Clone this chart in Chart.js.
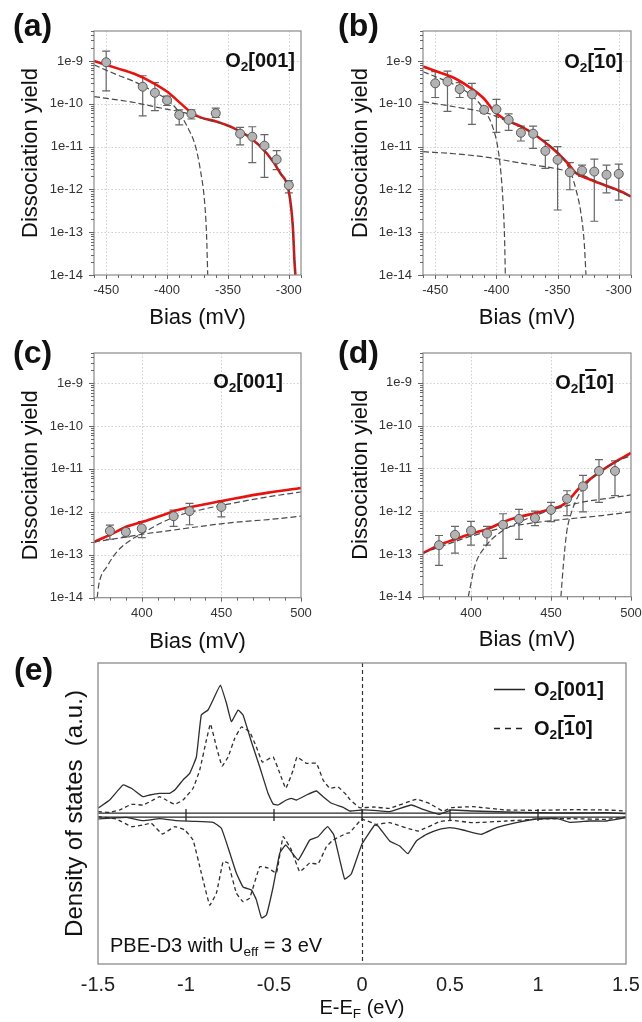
<!DOCTYPE html>
<html><head><meta charset="utf-8">
<script src="https://cdn.jsdelivr.net/npm/chart.js@4.4.0/dist/chart.umd.min.js"></script>
<style>
html,body{margin:0;padding:0;background:#fff;}
#root{position:relative;width:642px;height:1022px;overflow:hidden;font-family:"Liberation Sans",Arial,sans-serif;color:#111;}
canvas{position:absolute;}
.lbl{position:absolute;font-weight:bold;font-size:32px;line-height:1;white-space:nowrap;}
.ann{position:absolute;font-weight:bold;font-size:20px;line-height:1;white-space:nowrap;}
.txt{position:absolute;font-size:20px;line-height:1;white-space:nowrap;}
.sub{font-size:68%;position:relative;top:0.32em;}
.ov{text-decoration:overline;text-decoration-thickness:2px;}
</style></head><body><div id="root">
<canvas id="ca" width="321" height="335" style="left:0;top:0"></canvas>
<canvas id="cb" width="321" height="335" style="left:321px;top:0"></canvas>
<canvas id="cc" width="321" height="360" style="left:0;top:300px"></canvas>
<canvas id="cd" width="321" height="360" style="left:321px;top:300px"></canvas>
<canvas id="ce" width="642" height="372" style="left:0;top:650px"></canvas>

<div class="lbl" style="left:13px;top:9px">(a)</div>
<div class="lbl" style="left:338px;top:9px">(b)</div>
<div class="lbl" style="left:13px;top:336px">(c)</div>
<div class="lbl" style="left:338px;top:336px">(d)</div>
<div class="lbl" style="left:14px;top:653px">(e)</div>

<div class="ann" style="right:347px;top:50px">O<span class="sub">2</span>[001]</div>
<div class="ann" style="right:19px;top:51px">O<span class="sub">2</span>[<span class="ov">1</span>0]</div>
<div class="ann" style="right:359px;top:371px">O<span class="sub">2</span>[001]</div>
<div class="ann" style="right:28px;top:372px">O<span class="sub">2</span>[<span class="ov">1</span>0]</div>

<div class="ann" style="left:534px;top:679px">O<span class="sub">2</span>[001]</div>
<div class="ann" style="left:534px;top:718px">O<span class="sub">2</span>[<span class="ov">1</span>0]</div>
<div class="txt" style="left:110px;top:935px">PBE-D3 with U<span class="sub">eff</span> = 3 eV</div>
<div class="txt" style="left:262px;width:200px;text-align:center;top:997px">E-E<span class="sub">F</span> (eV)</div>
</div>
<script>
// ---------- tick values ----------
const yTickVals = [1e-14, 1e-13, 1e-12, 1e-11, 1e-10, 1e-9];
const yTickLabels = ['1e-14', '1e-13', '1e-12', '1e-11', '1e-10', '1e-9'];
const negTicks = [-450, -400, -350, -300];
const posTicks = [400, 450, 500];
const eTicks = [-1.5, -1, -0.5, 0, 0.5, 1, 1.5];
const eTickLabels = ['-1.5', '-1', '-0.5', '0', '0.5', '1', '1.5'];
const eBaseTicks = [-1, -0.5, 0, 0.5, 1];

// ---------- panel (a) O2[001], negative bias ----------
const aBias  = [-450, -420, -410, -400, -390, -380, -360, -340, -330, -320, -310, -300];
const aYield = [9.3e-10, 2.5e-10, 1.8e-10, 1.2e-10, 5.5e-11, 5.8e-11, 6.0e-11, 2.0e-11, 1.7e-11, 1.05e-11, 5.0e-12, 1.25e-12];
const aErrHi = [1.7e-9, 4.5e-10, 3.1e-10, 1.5e-10, 7.2e-11, 7.2e-11, 7.9e-11, 2.8e-11, 2.9e-11, 1.9e-11, 8.0e-12, 1.6e-12];
const aErrLo = [2.0e-10, 5.2e-11, 6.9e-11, 9.1e-11, 3.2e-11, 4.4e-11, 4.8e-11, 1.1e-11, 4.2e-12, 1.9e-12, 2.9e-12, 8.3e-13];
const aFitX = [-460, -440.7, -427, -413.5, -399.8, -388.9, -379.4, -372.6, -358.9, -345.3, -331.6, -318, -307, -300, -296.7, -295.4, -294.6];
const aFitY = [1.0e-9, 6.7e-10, 5.0e-10, 3.3e-10, 1.9e-10, 1.02e-10, 6.0e-11, 4.8e-11, 3.8e-11, 2.7e-11, 1.6e-11, 6.9e-12, 2.4e-12, 8.9e-13, 1.35e-13, 2.2e-14, 1e-14];
const aC1X = [-460, -440.7, -427, -413.5, -399.8, -391.6, -383.5, -376.6, -372.6, -369.3, -367.6, -366.6];
const aC1Y = [8.1e-10, 4.7e-10, 3.3e-10, 2.1e-10, 1.23e-10, 7.2e-11, 2.95e-11, 1.0e-11, 2.8e-12, 5.6e-13, 9.3e-14, 1e-14];
const aC2X = [-460, -440.7, -427, -413.5, -399.8, -386, -372.6, -358.9, -345.3, -331.6, -318, -307, -300, -296.7, -295.4, -294.6];
const aC2Y = [1.47e-10, 1.23e-10, 1.07e-10, 8.9e-11, 7.4e-11, 6.2e-11, 4.7e-11, 3.7e-11, 2.7e-11, 1.6e-11, 6.9e-12, 2.4e-12, 8.9e-13, 1.35e-13, 2.2e-14, 1e-14];

// ---------- panel (b) O2[1-10], negative bias ----------
const bBias  = [-450, -440, -430, -420, -410, -400, -390, -380, -370, -360, -350, -340, -330, -320, -310, -300];
const bYield = [3.0e-10, 3.3e-10, 2.2e-10, 1.66e-10, 7.2e-11, 7.4e-11, 4.2e-11, 2.1e-11, 2.0e-11, 7.9e-12, 4.9e-12, 2.5e-12, 2.75e-12, 2.6e-12, 2.2e-12, 2.3e-12];
const bErrHi = [5.6e-10, 5.8e-10, 3.1e-10, 3.0e-10, 8.3e-11, 1.27e-10, 5.8e-11, 3.0e-11, 3.0e-11, 1.4e-11, 1.0e-11, 4.2e-12, 3.7e-12, 5.1e-12, 3.7e-12, 3.9e-12];
const bErrLo = [1.4e-10, 6.6e-11, 1.4e-10, 3.3e-11, 6.0e-11, 2.15e-11, 2.4e-11, 1.35e-11, 9.1e-12, 3.1e-12, 3.3e-13, 9.8e-13, 2.0e-12, 1.8e-13, 8.3e-13, 5.6e-13];
const bFitX = [-460, -448.1, -434.5, -420.8, -409.9, -401.7, -393.6, -379.9, -366.3, -352.7, -341.8, -335, -325.5, -311.8, -298.1, -290];
const bFitY = [7.4e-10, 5.6e-10, 4.0e-10, 2.3e-10, 1.29e-10, 6.6e-11, 4.4e-11, 2.95e-11, 1.7e-11, 8.3e-12, 4.1e-12, 2.4e-12, 1.8e-12, 1.26e-12, 8.9e-13, 6.8e-13];
const bC1X = [-460, -448.1, -434.5, -420.8, -409.9, -403.1, -399, -396.3, -394.4, -393.3, -392.7];
const bC1Y = [5.6e-10, 4.1e-10, 2.8e-10, 1.6e-10, 7.2e-11, 2.9e-11, 1.0e-11, 2.4e-12, 4.0e-13, 6.6e-14, 1e-14];
const bC2X = [-460, -434.5, -407.2, -393.6, -379.9, -366.3, -352.7, -344.5, -339.1, -335, -330.9, -328.2, -326.8];
const bC2Y = [1.12e-10, 8.5e-11, 6.0e-11, 4.2e-11, 2.95e-11, 1.7e-11, 8.7e-12, 4.9e-12, 2.4e-12, 1.0e-12, 2.75e-13, 5.5e-14, 1e-14];
const bC3X = [-460, -434.5, -407.2, -379.9, -352.7, -330.9, -311.8, -290];
const bC3Y = [7.6e-12, 6.8e-12, 5.6e-12, 4.1e-12, 3.1e-12, 2.2e-12, 1.26e-12, 6.8e-13];

// ---------- panel (c) O2[001], positive bias ----------
const cBias  = [380, 390, 400, 420, 430, 450];
const cYield = [3.6e-13, 3.4e-13, 4.1e-13, 7.9e-13, 1.04e-12, 1.3e-12];
const cErrHi = [4.9e-13, 4.1e-13, 5.9e-13, 1.1e-12, 1.58e-12, 1.78e-12];
const cErrLo = [2.3e-13, 2.6e-13, 2.5e-13, 4.6e-13, 5.0e-13, 7.6e-13];
const cFitX = [370, 380.4, 391, 401.5, 412, 422.6, 437.3, 458.4, 479.5, 500];
const cFitY = [2.0e-13, 2.95e-13, 4.6e-13, 6.0e-13, 8.1e-13, 1.1e-12, 1.44e-12, 2.05e-12, 2.8e-12, 3.6e-12];
const cC1X = [372, 373, 378.3, 384.6, 393, 400, 412, 422.6, 437.3, 458.4, 479.5, 500];
const cC1Y = [1e-14, 2e-14, 5.4e-14, 1.2e-13, 2.2e-13, 3.1e-13, 5.5e-13, 8.1e-13, 1.12e-12, 1.62e-12, 2.24e-12, 2.9e-12];
const cC2X = [370, 384.6, 400, 416.2, 437.3, 458.4, 479.5, 500];
const cC2Y = [2.0e-13, 2.4e-13, 3.0e-13, 3.6e-13, 4.6e-13, 5.7e-13, 6.6e-13, 7.9e-13];

// ---------- panel (d) O2[1-10], positive bias ----------
const dBias  = [380, 390, 400, 410, 420, 430, 440, 450, 460, 470, 480, 490];
const dYield = [1.6e-13, 2.8e-13, 3.5e-13, 3.0e-13, 4.8e-13, 6.6e-13, 6.9e-13, 1.07e-12, 1.95e-12, 3.8e-12, 8.7e-12, 8.7e-12];
const dErrHi = [2.7e-13, 4.4e-13, 5.8e-13, 4.4e-13, 8.7e-13, 1.1e-12, 1.0e-12, 1.6e-12, 3.0e-12, 6.9e-12, 1.6e-11, 1.5e-11];
const dErrLo = [5.4e-14, 1.04e-13, 1.6e-13, 1.6e-13, 7.9e-14, 2.2e-13, 4.6e-13, 5.7e-13, 7.9e-13, 9.6e-13, 1.6e-12, 2.3e-12];
const dFitX = [370, 380, 390, 400, 410.8, 420.2, 429.6, 440, 450, 456.7, 460.8, 467.1, 473.3, 481.7, 490, 500];
const dFitY = [1.05e-13, 1.6e-13, 2.2e-13, 2.95e-13, 3.9e-13, 5.6e-13, 7.3e-13, 8.9e-13, 1.12e-12, 1.35e-12, 1.78e-12, 3.3e-12, 5.2e-12, 8.9e-12, 1.4e-11, 2.3e-11];
const dC1X = [456.2, 457.7, 459.8, 462.9, 467.1, 473.3, 481.7, 490, 500];
const dC1Y = [1e-14, 5.4e-14, 3.2e-13, 9.6e-13, 2.3e-12, 4.8e-12, 8.9e-12, 1.4e-11, 2.0e-11];
const dC2X = [398.3, 402.5, 408.8, 417, 427.5, 440, 452.5, 469.2, 485.8, 500];
const dC2Y = [1e-14, 5.4e-14, 1.45e-13, 2.95e-13, 5.0e-13, 7.9e-13, 1.12e-12, 1.62e-12, 2.0e-12, 2.4e-12];
const dC3X = [370, 390, 400, 419.2, 440, 460.8, 481.7, 500];
const dC3Y = [1.05e-13, 1.95e-13, 2.6e-13, 4.0e-13, 5.4e-13, 6.6e-13, 7.9e-13, 9.6e-13];

// ---------- panel (e) DOS ----------
const upSolidE = [-1.5,-1.434,-1.358,-1.31,-1.244,-1.206,-1.15,-1.093,-1.064,-1.017,-0.979,-0.941,-0.913,-0.875,-0.842,-0.805,-0.77,-0.742,-0.704,-0.676,-0.628,-0.581,-0.534,-0.505,-0.477,-0.43,-0.401,-0.372,-0.316,-0.259,-0.221,-0.173,-0.107,-0.07,0,0.063,0.157,0.28,0.347,0.44,0.508,0.63,0.82,1.01,1.2,1.39,1.5];
const upSolidV = [6.7,15,30,26.7,18.3,20,21.7,21.7,25,35,41.7,58,100,105,116.7,130,111.7,93.3,105,100,73,48,21.7,11,10,15,16.7,15,20,24,18.3,11.7,7.7,4,5,4.7,3.3,10,5.7,0.7,5,4,3,2.3,2,2.3,1.3];
const upDashE = [-1.5,-1.434,-1.377,-1.31,-1.244,-1.187,-1.15,-1.112,-1.064,-1.017,-0.96,-0.922,-0.884,-0.861,-0.827,-0.795,-0.761,-0.723,-0.685,-0.638,-0.6,-0.566,-0.505,-0.467,-0.433,-0.391,-0.369,-0.316,-0.259,-0.221,-0.183,-0.136,-0.088,-0.07,-0.013,0.063,0.157,0.309,0.385,0.46,0.508,0.63,0.82,1.01,1.2,1.39,1.5];
const upDashV = [3.3,2.7,5,10.7,10,15,18.3,15,10.7,15,26.7,45,75,91,68,49,58,76.7,88,83,68,53,58,41.7,26.7,45,58,51.7,51.7,35,26.7,28,20,15.7,7.3,8,6.7,15.7,11.3,4,7.3,8.3,5,4.7,5.3,5,4];
const dnSolidE = [-1.5,-1.339,-1.244,-1.15,-1.055,-0.96,-0.846,-0.799,-0.751,-0.714,-0.676,-0.628,-0.6,-0.571,-0.543,-0.505,-0.467,-0.433,-0.363,-0.297,-0.25,-0.196,-0.16,-0.099,-0.061,0,0.072,0.091,0.157,0.214,0.261,0.309,0.366,0.44,0.498,0.574,0.678,0.764,0.877,0.991,1.105,1.18,1.294,1.39,1.5];
const dnSolidV = [-4,-2.3,-5.7,-3.7,-5.7,-6.3,-7.3,-13.3,-38,-58,-72,-75,-85,-103,-100,-72,-38,-30,-45,-25,-21.7,-11.7,-20,-64,-59,-29,-10,-11,-26,-31,-38.7,-26,-19.3,-14.3,-12.7,-15,-19.3,-12.7,-7.7,-4,-3.3,-7.3,-6,-6,-2.7];
const dnDashE = [-1.5,-1.396,-1.31,-1.244,-1.197,-1.134,-1.064,-1.007,-0.96,-0.913,-0.865,-0.827,-0.789,-0.761,-0.714,-0.676,-0.638,-0.581,-0.534,-0.486,-0.448,-0.401,-0.354,-0.297,-0.25,-0.202,-0.164,-0.088,-0.07,0,0.081,0.157,0.318,0.44,0.508,0.63,0.82,1.01,1.2,1.39,1.5];
const dnDashV = [-1.7,-4,-11.7,-10,-8.3,-19,-11.7,-15,-25,-58,-90,-78,-46.7,-48,-78,-86.7,-83,-51.7,-53,-58,-21.7,-35,-56.7,-48,-49,-31.7,-25,-18.3,-17.7,-4.3,-9.3,-7.7,-16,-6.7,-5.3,-7.7,-6,-4,-3.7,-4.3,-2];

// ---------- helpers ----------
Chart.defaults.font.family = '"Liberation Sans", Arial, sans-serif';
Chart.defaults.color = '#333';
const pts = (xs, ys) => xs.map((x, i) => ({x: x, y: ys[i]}));
const RED = '#e8120f', DASH = '#4a4a4a';
const noPad = s => { s.paddingLeft = 0; s.paddingRight = 0; s.paddingTop = 0; s.paddingBottom = 0; };

function yieldPanel(id, c) {
  const deco = {
    id: 'deco',
    beforeDatasetsDraw(chart) {
      const {ctx, chartArea: ca, scales: {x, y}} = chart;
      ctx.save();
      ctx.strokeStyle = '#cfcfcf'; ctx.lineWidth = 1; ctx.setLineDash([1.5, 2]);
      c.xTicks.forEach(v => {
        const p = Math.round(x.getPixelForValue(v)) + 0.5;
        if (p > ca.left + 2 && p < ca.right - 2) { ctx.beginPath(); ctx.moveTo(p, ca.top); ctx.lineTo(p, ca.bottom); ctx.stroke(); }
      });
      yTickVals.forEach(v => {
        const p = Math.round(y.getPixelForValue(v)) + 0.5;
        if (p > ca.top + 2 && p < ca.bottom - 2) { ctx.beginPath(); ctx.moveTo(ca.left, p); ctx.lineTo(ca.right, p); ctx.stroke(); }
      });
      ctx.setLineDash([]);
      ctx.strokeStyle = '#666'; ctx.lineWidth = 1.2;
      c.bias.forEach((b, i) => {
        const px = x.getPixelForValue(b), t = y.getPixelForValue(c.hi[i]), bt = y.getPixelForValue(c.lo[i]);
        ctx.beginPath();
        ctx.moveTo(px, t); ctx.lineTo(px, bt);
        ctx.moveTo(px - 4, t); ctx.lineTo(px + 4, t);
        ctx.moveTo(px - 4, bt); ctx.lineTo(px + 4, bt);
        ctx.stroke();
      });
      ctx.restore();
    },
    afterDatasetsDraw(chart) {
      const {ctx, chartArea: ca, scales: {x, y}} = chart;
      ctx.save();
      ctx.strokeStyle = '#8a8a8a'; ctx.lineWidth = 1.2;
      ctx.strokeRect(ca.left, ca.top, ca.right - ca.left, ca.bottom - ca.top);
      ctx.strokeStyle = '#666'; ctx.lineWidth = 1;
      ctx.beginPath();
      yTickVals.forEach(v => {
        const p = Math.round(y.getPixelForValue(v)) + 0.5;
        ctx.moveTo(ca.left, p); ctx.lineTo(ca.left - 5, p);
        for (let k = 2; k <= 9; k++) {
          const mv = v * k;
          if (mv <= c.yMax) { const q = Math.round(y.getPixelForValue(mv)) + 0.5; ctx.moveTo(ca.left, q); ctx.lineTo(ca.left - 3, q); }
        }
      });
      for (let v = c.xMin; v <= c.xMax + 0.01; v += 10) {
        const p = Math.round(x.getPixelForValue(v)) + 0.5;
        const len = c.xTicks.includes(v) ? 4 : 3;
        ctx.moveTo(p, ca.bottom); ctx.lineTo(p, ca.bottom + len);
      }
      ctx.stroke();
      ctx.restore();
    }
  };
  const line = (xs, ys, col, w, dash) => ({
    data: pts(xs, ys), borderColor: col, borderWidth: w, borderDash: dash || [],
    pointRadius: 0, fill: false, cubicInterpolationMode: 'monotone'
  });
  const datasets = [{
    data: pts(c.bias, c.yield), showLine: false, pointRadius: 4.5, pointHoverRadius: 4.5,
    pointBackgroundColor: '#b3b3b3', pointBorderColor: '#5a5a5a', pointBorderWidth: 1
  }];
  c.comps.forEach(cp => datasets.push(line(cp[0], cp[1], DASH, 1.2, [6, 3])));
  datasets.push(line(c.fitX, c.fitY, RED, 2.6));
  new Chart(document.getElementById(id), {
    type: 'line',
    data: {datasets: datasets},
    options: {
      responsive: false, animation: false, devicePixelRatio: 1,
      layout: {padding: c.pad},
      plugins: {legend: {display: false}, tooltip: {enabled: false}},
      scales: {
        x: {
          type: 'linear', min: c.xMin, max: c.xMax,
          afterBuildTicks: s => { s.ticks = c.xTicks.map(v => ({value: v})); },
          afterFit: s => { s.height = c.xH; noPad(s); },
          grid: {display: false, drawTicks: false, tickLength: 0},
          border: {display: false},
          ticks: {font: {size: 13}, color: '#333', padding: c.xPad, maxRotation: 0, callback: v => String(v)},
          title: {display: true, text: 'Bias (mV)', font: {size: 22}, color: '#111', padding: {top: 0, bottom: c.xTitlePad}}
        },
        y: {
          type: 'logarithmic', min: 1e-14, max: c.yMax,
          afterBuildTicks: s => { s.ticks = yTickVals.map(v => ({value: v})); },
          afterFit: s => { s.width = c.yW; noPad(s); },
          grid: {display: false, drawTicks: false, tickLength: 0},
          border: {display: false},
          ticks: {font: {size: 13}, color: '#333', padding: 11, callback: (v, i) => yTickLabels[i]},
          title: {display: true, text: 'Dissociation yield', font: {size: 22}, color: '#111', padding: {top: c.yTitlePad, bottom: 0}}
        }
      }
    },
    plugins: [deco]
  });
}

yieldPanel('ca', {bias: aBias, yield: aYield, hi: aErrHi, lo: aErrLo, fitX: aFitX, fitY: aFitY,
  comps: [[aC1X, aC1Y], [aC2X, aC2Y]], xMin: -460, xMax: -290, xTicks: negTicks, yMax: 5e-9,
  pad: {left: 0, top: 31, right: 20, bottom: 0}, xH: 60, yW: 94, xPad: 8, xTitlePad: 3.8, yTitlePad: 17.6});
yieldPanel('cb', {bias: bBias, yield: bYield, hi: bErrHi, lo: bErrLo, fitX: bFitX, fitY: bFitY,
  comps: [[bC1X, bC1Y], [bC2X, bC2Y], [bC3X, bC3Y]], xMin: -460, xMax: -290, xTicks: negTicks, yMax: 5e-9,
  pad: {left: 0, top: 31, right: 11, bottom: 0}, xH: 60, yW: 102, xPad: 8, xTitlePad: 3.8, yTitlePad: 26.5});
yieldPanel('cc', {bias: cBias, yield: cYield, hi: cErrHi, lo: cErrLo, fitX: cFitX, fitY: cFitY,
  comps: [[cC1X, cC1Y], [cC2X, cC2Y]], xMin: 370, xMax: 500, xTicks: posTicks, yMax: 5e-9,
  pad: {left: 0, top: 53, right: 20, bottom: 0}, xH: 62.3, yW: 94, xPad: 8, xTitlePad: 5.1, yTitlePad: 17.6});
yieldPanel('cd', {bias: dBias, yield: dYield, hi: dErrHi, lo: dErrLo, fitX: dFitX, fitY: dFitY,
  comps: [[dC1X, dC1Y], [dC2X, dC2Y], [dC3X, dC3Y]], xMin: 370, xMax: 500, xTicks: posTicks, yMax: 5e-9,
  pad: {left: 0, top: 53, right: 11, bottom: 0}, xH: 63.3, yW: 102, xPad: 8.8, xTitlePad: 6.8, yTitlePad: 26.5});

// ---------- panel (e) ----------
const eDeco = {
  id: 'edeco',
  beforeDatasetsDraw(chart) {
    const {ctx, chartArea: ca, scales: {x, y}} = chart;
    ctx.save();
    ctx.strokeStyle = '#333'; ctx.lineWidth = 1.2; ctx.setLineDash([4, 3]);
    const p0 = Math.round(x.getPixelForValue(0)) + 0.5;
    ctx.beginPath(); ctx.moveTo(p0, ca.top); ctx.lineTo(p0, ca.bottom); ctx.stroke();
    ctx.restore();
  },
  afterDatasetsDraw(chart) {
    const {ctx, chartArea: ca, scales: {x, y}} = chart;
    ctx.save();
    ctx.strokeStyle = '#2a2a2a'; ctx.lineWidth = 1.3;
    ctx.beginPath();
    [1.8, -2.2].forEach(v => { const p = y.getPixelForValue(v); ctx.moveTo(ca.left, p); ctx.lineTo(ca.right, p); });
    eBaseTicks.forEach(v => { const p = x.getPixelForValue(v); ctx.moveTo(p, y.getPixelForValue(6)); ctx.lineTo(p, y.getPixelForValue(-6)); });
    ctx.stroke();
    ctx.strokeStyle = '#8a8a8a'; ctx.lineWidth = 1.3;
    ctx.strokeRect(ca.left, ca.top, ca.right - ca.left, ca.bottom - ca.top);
    // legend samples
    ctx.strokeStyle = '#222'; ctx.lineWidth = 1.5;
    ctx.beginPath(); ctx.moveTo(494, 39.5); ctx.lineTo(525, 39.5); ctx.stroke();
    ctx.setLineDash([6, 5]);
    ctx.beginPath(); ctx.moveTo(494, 78.5); ctx.lineTo(525, 78.5); ctx.stroke();
    ctx.restore();
  }
};
const dosLine = (xs, ys, dash) => ({
  data: pts(xs, ys), borderColor: '#2e2e2e', borderWidth: 1.3, borderDash: dash || [],
  pointRadius: 0, fill: false, tension: 0.1
});
new Chart(document.getElementById('ce'), {
  type: 'line',
  data: {datasets: [
    dosLine(upSolidE, upSolidV), dosLine(dnSolidE, dnSolidV),
    dosLine(upDashE, upDashV, [4, 3]), dosLine(dnDashE, dnDashV, [4, 3])
  ]},
  options: {
    responsive: false, animation: false, devicePixelRatio: 1,
    layout: {padding: {left: 0, top: 13, right: 16, bottom: 0}},
    plugins: {legend: {display: false}, tooltip: {enabled: false}},
    scales: {
      x: {
        type: 'linear', min: -1.5, max: 1.5,
        afterBuildTicks: s => { s.ticks = eTicks.map(v => ({value: v})); },
        afterFit: s => { s.height = 58; noPad(s); },
        grid: {display: false, drawTicks: false, tickLength: 0},
        border: {display: false},
        ticks: {font: {size: 20}, color: '#222', padding: 9, maxRotation: 0, callback: (v, i) => eTickLabels[i]}
      },
      y: {
        type: 'linear', min: -149, max: 152,
        afterFit: s => { s.width = 98; noPad(s); },
        grid: {display: false, drawTicks: false, tickLength: 0},
        border: {display: false},
        ticks: {display: false},
        title: {display: true, text: 'Density of states  (a.u.)', font: {size: 24}, color: '#111', padding: {top: 60.6, bottom: 0}}
      }
    }
  },
  plugins: [eDeco]
});
</script>
</body></html>
